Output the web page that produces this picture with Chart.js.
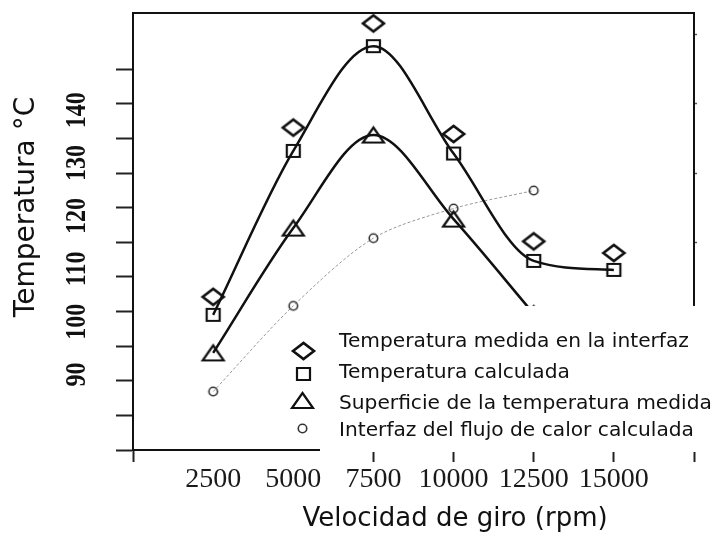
<!DOCTYPE html>
<html><head><meta charset="utf-8">
<script src="https://cdn.jsdelivr.net/npm/chart.js@4.4.0/dist/chart.umd.min.js"></script>
<style>
html,body{margin:0;padding:0;background:#fff;}
#wrap{position:relative;width:716px;height:534px;overflow:hidden;}
#legendBox{position:absolute;left:320px;top:306px;width:396px;height:146px;background:#fff;}
.lg-text{position:absolute;left:339px;font-family:"DejaVu Sans";font-size:20.2px;color:#111;white-space:nowrap;line-height:24px;height:24px;}
.lg-mark{position:absolute;}
</style></head>
<body><div id="wrap"><canvas id="c" width="716" height="534"></canvas><div id="legendBox"></div></div>
<script>
// ---- data ----
const rpm = [2500, 5000, 7500, 10000, 12500, 15000];
const measuredInterface = [104.7, 136.7, 156.4, 135.5, 115.2, 113.0];
const calculated = [101.3, 132.3, 152.1, 131.8, 111.5, 109.8];
const surfaceMeasured = [94.1, 117.7, 135.3, 119.4, 101.5];
const heatFluxInterface = [86.8, 103.0, 115.8, 121.4, 124.8];
const seriesNames = [
  'Temperatura medida en la interfaz',
  'Temperatura calculada',
  'Superficie de la temperatura medida',
  'Interfaz del flujo de calor calculada'
];
const yTickLabels = [90, 100, 110, 120, 130, 140];
const xTickLabels = [2500, 5000, 7500, 10000, 12500, 15000];
const xTitle = 'Velocidad de giro (rpm)';
const yTitle = 'Temperatura °C';

// ---- axis settings ----
const Y_MIN = 75.75, Y_MAX = 158.46, Y_TICK_STEP = 6.545;
const X_MIN = 0, X_MAX = 17500, X_STEP = 2500;

function pts(xs, ys) { return ys.map((v, i) => ({x: xs[i], y: v})); }

function marker(shape, w, h, lw, color) {
  const pad = Math.ceil(lw) + 1;
  const c = document.createElement('canvas');
  c.width = Math.round(w + pad * 2); c.height = Math.round(h + pad * 2);
  const g = c.getContext('2d');
  g.strokeStyle = color || '#111'; g.lineWidth = lw; g.lineJoin = 'miter';
  const cx = c.width / 2, cy = c.height / 2;
  g.beginPath();
  if (shape === 'diamond') {
    g.moveTo(cx - w / 2, cy); g.lineTo(cx, cy - h / 2); g.lineTo(cx + w / 2, cy); g.lineTo(cx, cy + h / 2); g.closePath();
  } else if (shape === 'square') {
    g.rect(cx - w / 2, cy - h / 2, w, h);
  } else if (shape === 'triangle') {
    g.moveTo(cx, cy - h / 2); g.lineTo(cx + w / 2, cy + h / 2); g.lineTo(cx - w / 2, cy + h / 2); g.closePath();
  } else {
    g.arc(cx, cy, w / 2, 0, Math.PI * 2);
  }
  g.stroke();
  return c;
}

const mDiamond = marker('diamond', 21, 16, 2.6);
const mSquare = marker('square', 13, 12, 2.2);
const mTriangle = marker('triangle', 21, 15, 2.2);
const mCircle = marker('circle', 8.5, 8.5, 1.6, '#333');

const textPlugin = {
  id: 'axisText',
  afterDraw(chart) {
    const ctx = chart.ctx, ys = chart.scales.y;
    ctx.save();
    ctx.fillStyle = '#111';
    ctx.font = 'bold 30px "Liberation Serif"';
    ctx.textAlign = 'center';
    ctx.textBaseline = 'alphabetic';
    yTickLabels.forEach(v => {
      const py = ys.getPixelForValue(v);
      ctx.save();
      ctx.translate(75, py);
      ctx.rotate(-Math.PI / 2);
      ctx.scale(0.8, 1);
      ctx.fillText(String(v), 0, 10);
      ctx.restore();
    });
    ctx.font = '26px "DejaVu Sans"';
    ctx.textBaseline = 'middle';
    ctx.fillText(xTitle, 455, 519);
    ctx.save();
    ctx.translate(27, 207);
    ctx.rotate(-Math.PI / 2);
    ctx.font = '28px "DejaVu Sans"';
    ctx.fillText(yTitle, 0, 0);
    ctx.restore();
    ctx.restore();
  }
};

new Chart(document.getElementById('c'), {
  type: 'line',
  data: {
    datasets: [
      {label: seriesNames[0], data: pts(rpm, measuredInterface), showLine: false,
       pointStyle: mDiamond, pointRadius: 10, borderColor: '#111'},
      {label: seriesNames[1], data: pts(rpm, calculated), showLine: true,
       borderColor: '#111', borderWidth: 2.5, cubicInterpolationMode: 'monotone',
       pointStyle: mSquare, pointRadius: 7, fill: false},
      {label: seriesNames[2], data: pts(rpm, surfaceMeasured), showLine: true,
       borderColor: '#111', borderWidth: 2.5, cubicInterpolationMode: 'monotone',
       pointStyle: mTriangle, pointRadius: 10, fill: false},
      {label: seriesNames[3], data: pts(rpm, heatFluxInterface), showLine: true,
       borderColor: '#999', borderWidth: 1, borderDash: [3, 2], tension: 0.3,
       pointStyle: mCircle, pointRadius: 5, fill: false}
    ]
  },
  options: {
    responsive: false, animation: false, devicePixelRatio: 1,
    layout: {padding: 0},
    plugins: {legend: {display: false}, tooltip: {enabled: false}},
    scales: {
      x: {
        type: 'linear', position: 'bottom', min: X_MIN, max: X_MAX,
        ticks: {stepSize: X_STEP, padding: 1, color: '#1a1a1a',
          font: {family: 'Liberation Serif', size: 28},
          maxRotation: 0, autoSkip: false,
          callback: v => xTickLabels.includes(v) ? String(v) : ''},
        grid: {drawOnChartArea: false, drawTicks: true, tickLength: 12, tickWidth: 2,
          tickColor: c => (c.tick && (c.tick.value === 2500 || c.tick.value === 5000)) ? 'rgba(0,0,0,0)' : '#222'},
        border: {display: true, color: '#111', width: 2},
        afterFit: s => { s.height = 84; }
      },
      xT: {
        type: 'linear', position: 'top', min: X_MIN, max: X_MAX,
        ticks: {display: false}, grid: {display: false},
        border: {display: true, color: '#111', width: 2},
        afterFit: s => { s.height = 10; }
      },
      y: {
        type: 'linear', position: 'left', min: Y_MIN, max: Y_MAX,
        ticks: {display: false},
        afterBuildTicks: s => { s.ticks = Array.from({length: 12}, (_, k) => ({value: Y_MIN + k * Y_TICK_STEP})); },
        grid: {drawOnChartArea: false, drawTicks: true, tickLength: 17, tickWidth: 2, tickColor: '#222'},
        border: {display: true, color: '#111', width: 2},
        afterFit: s => { s.width = 133; }
      },
      yR: {
        type: 'linear', position: 'right', min: Y_MIN, max: Y_MAX,
        ticks: {display: false},
        afterBuildTicks: s => { s.ticks = Array.from({length: 7}, (_, k) => ({value: Y_MIN + 2 * k * Y_TICK_STEP})); },
        grid: {drawOnChartArea: false, drawTicks: true, tickLength: 3, tickWidth: 1.5, tickColor: '#555'},
        border: {display: true, color: '#111', width: 2},
        afterFit: s => { s.width = 22; }
      }
    }
  },
  plugins: [textPlugin]
});

// ---- legend overlay (white panel over the figure, as in the reference) ----
const wrap = document.getElementById('wrap');
const legendMarks = [mDiamond, mSquare, mTriangle, mCircle];
const rowCenters = [340, 371, 402, 429];
const markCenters = [[303, 351], [303, 374], [302, 400], [302, 428]];
seriesNames.forEach((name, i) => {
  const t = document.createElement('div');
  t.className = 'lg-text';
  t.textContent = name;
  t.style.top = (rowCenters[i] - 12) + 'px';
  wrap.appendChild(t);
  const m = legendMarks[i];
  const mc = document.createElement('canvas');
  mc.width = m.width; mc.height = m.height;
  mc.getContext('2d').drawImage(m, 0, 0);
  mc.className = 'lg-mark';
  mc.style.left = (markCenters[i][0] - m.width / 2) + 'px';
  mc.style.top = (markCenters[i][1] - m.height / 2) + 'px';
  wrap.appendChild(mc);
});
</script>
</body></html>
